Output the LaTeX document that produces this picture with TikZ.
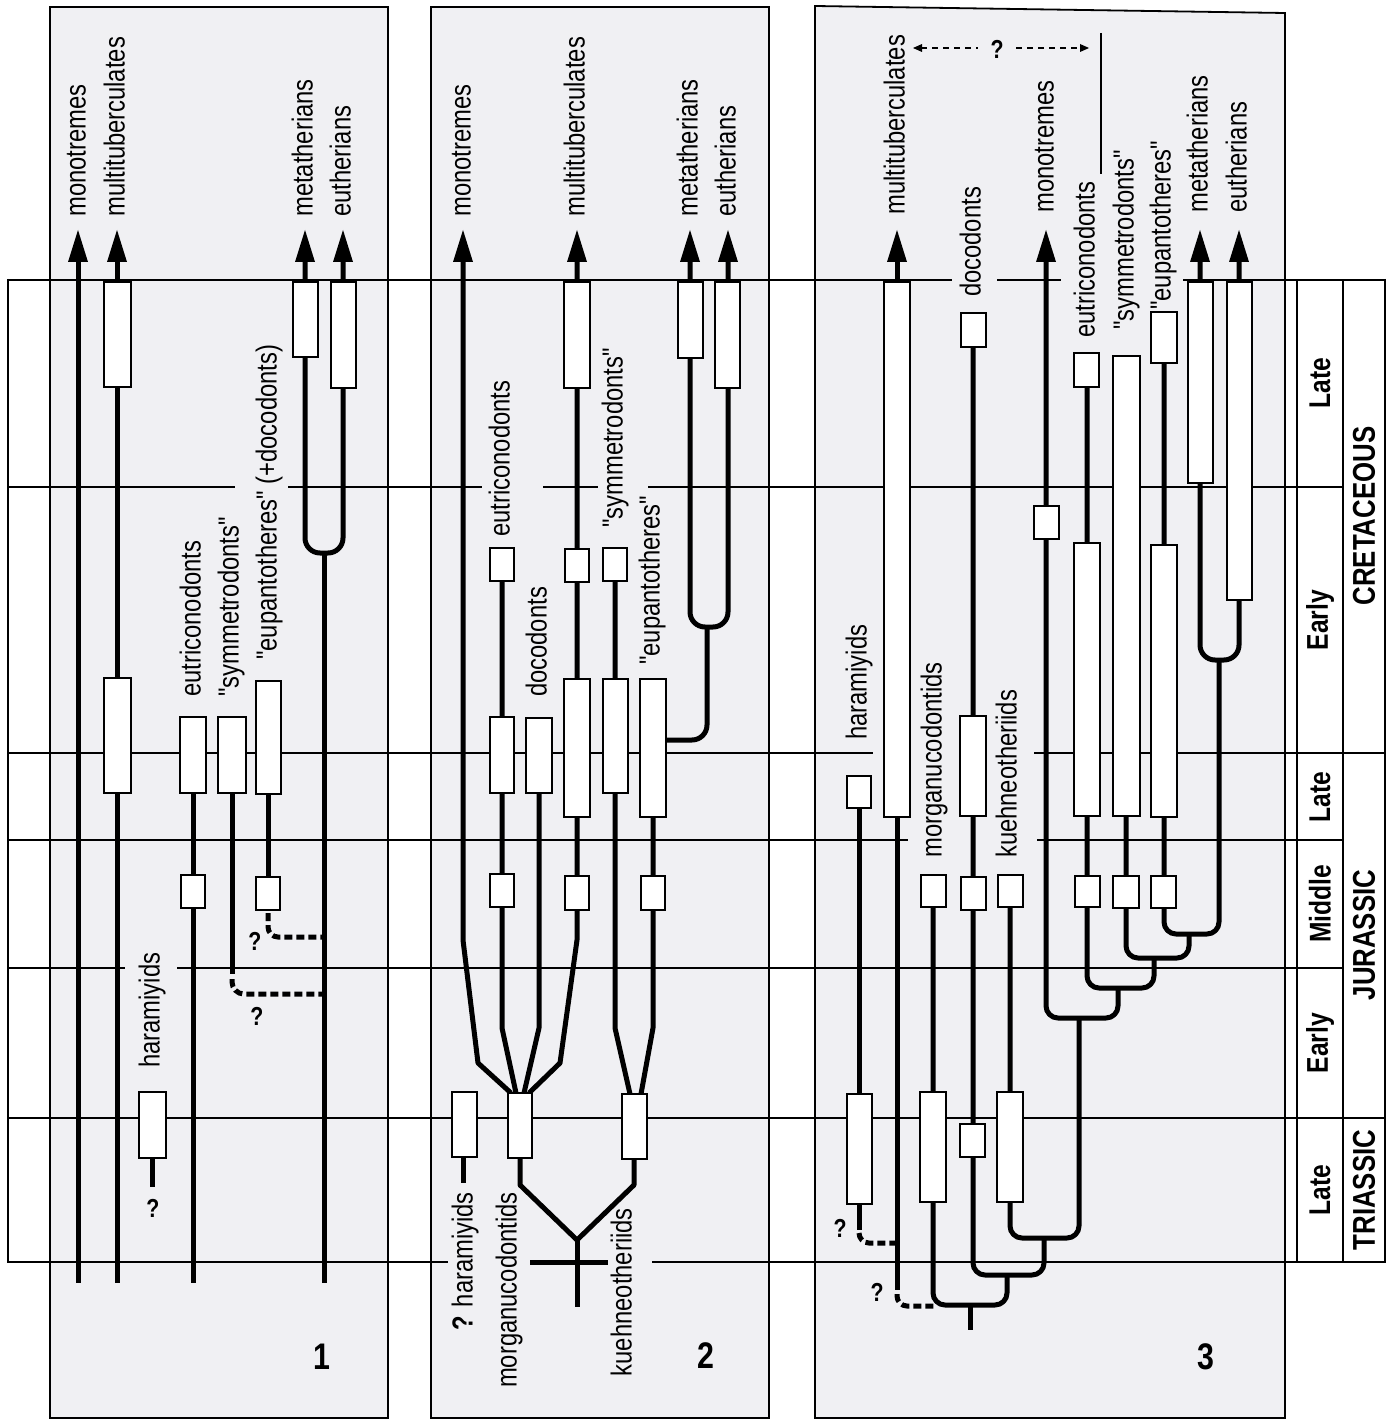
\documentclass[tikz,border=0pt]{standalone}
\usepackage{fontspec}
\newfontfamily\labfont[FakeStretch=0.82]{Liberation Sans}
\definecolor{panelgray}{RGB}{240,240,243}
\newcommand\labsize{\labfont\fontsize{29pt}{32pt}\selectfont}
\newcommand\qsize{\labfont\bfseries\fontsize{26pt}{28pt}\selectfont}
\newcommand\stsize{\labfont\bfseries\fontsize{30pt}{32pt}\selectfont}
\newcommand\persize{\labfont\bfseries\fontsize{31.5pt}{34pt}\selectfont}
\newcommand\numsize{\labfont\bfseries\fontsize{37pt}{40pt}\selectfont}
\newcommand\mybox[5]{%
  \pgfmathsetmacro\mbw{#4-#2}%
  \pgfmathsetmacro\mbh{#5-#3}%
  \node[bx,minimum width=\mbw pt,minimum height=\mbh pt] (#1) at ({(#2+#4)/2},{(#3+#5)/2}) {};}
\newcommand\arrowtip[1]{\fill ({#1-10},262) -- (#1,230) -- ({#1+10},262) -- cycle;}
\newcommand\uplab[4]{\node[lab,anchor=base west] (#1) at ({#2+7.5},#3) {#4};}
\newcommand\dnlab[4]{\node[lab,anchor=base east] (#1) at ({#2+7.5},#3) {#4};}
\begin{document}
\begin{tikzpicture}[x=1pt,y=-1pt,
  lin/.style={line width=5pt, line join=round},
  dsh/.style={line width=5pt, dash pattern=on 8pt off 4pt},
  tl/.style={line width=1.4pt},
  fr/.style={line width=2.4pt},
  pan/.style={fill=panelgray, draw=black, line width=1.8pt},
  bx/.style={draw, line width=2pt, fill=white, inner sep=0pt, outer sep=0pt, rectangle},
  lab/.style={rotate=90, inner sep=0pt, font=\labsize},
  q/.style={inner sep=0pt, font=\qsize},
  stg/.style={rotate=90, inner sep=0pt, font=\stsize},
  per/.style={rotate=90, inner sep=0pt, font=\persize},
  num/.style={inner sep=0pt, font=\numsize}]
\useasboundingbox (0,0) rectangle (1390,1420);
\fill[white] (0,0) rectangle (1390,1420);
% panels
\draw[pan] (50,7) rectangle (388,1418);
\draw[pan] (431,7) rectangle (769,1418);
\draw[pan] (815,6) -- (1285,13) -- (1285,1418) -- (815,1418) -- cycle;
% time lines
\draw[tl] (8,487) -- (235,487) (288,487) -- (482,487) (543,487) -- (598,487) (648,487) -- (1343,487);
\draw[tl] (8,753) -- (873,753) (1034,753) -- (1385,753);
\draw[tl] (8,840) -- (908,840) (1037,840) -- (1343,840);
\draw[tl] (8,968) -- (125,968) (177,968) -- (1343,968);
\draw[tl] (8,1118) -- (1385,1118);
\draw[tl] (1297,280) -- (1297,1262) (1343,280) -- (1343,1262);
% frame
\draw[fr] (8,280) -- (952,280) (997,280) -- (1061,280) (1183,280) -- (1385,280);
\draw[fr] (8,1262) -- (448,1262) (652,1262) -- (1385,1262);
\draw[fr] (8,279) -- (8,1263);
\draw[fr] (1385,279) -- (1385,1263);
% ---------- panel 1 lineages
\draw[lin] (78,258) -- (78,1283);
\draw[lin] (117,258) -- (117,1283);
\draw[lin, rounded corners=15pt] (305,258) -- (305,553) -- (343,553) -- (343,258);
\draw[lin] (324,553) -- (324,1283);
\draw[lin] (193,717) -- (193,1283);
\draw[lin] (232,717) -- (232,974);
\draw[dsh, rounded corners=12pt] (232,979) -- (232,994) -- (322,994);
\draw[lin] (268,681) -- (268,910);
\draw[dsh, rounded corners=10pt] (268,913) -- (268,937) -- (322,937);
\draw[lin] (152,1158) -- (152,1187);
% ---------- panel 2 lineages
\draw[lin] (463,258) -- (463,940) -- (478,1063) -- (511,1093);
\draw[lin] (502,548) -- (502,1028) -- (516,1093);
\draw[lin] (539,718) -- (539,1028) -- (524,1093);
\draw[lin] (577,258) -- (577,940) -- (560,1063) -- (529,1093);
\draw[lin] (615,548) -- (615,1028) -- (630,1094);
\draw[lin] (653,679) -- (653,1028) -- (641,1094);
\draw[lin, rounded corners=15pt] (690,258) -- (690,627) -- (728,627) -- (728,258);
\draw[lin, rounded corners=15pt] (707,627) -- (707,740) -- (666,740);
\draw[lin] (463,1157) -- (463,1183);
\draw[lin] (520,1158) -- (520,1185) -- (577,1240) -- (634,1185) -- (634,1159);
\draw[lin] (577,1240) -- (577,1307);
\draw[lin] (530,1262) -- (608,1262);
% ---------- panel 3 lineages
\draw[lin] (897,258) -- (897,1290);
\draw[dsh, rounded corners=10pt] (897,1294) -- (897,1306) -- (936,1306);
\draw[lin] (859,808) -- (859,1230);
\draw[dsh, rounded corners=10pt] (859,1233) -- (859,1243) -- (895,1243);
\draw[lin, rounded corners=15pt] (1200,258) -- (1200,660) -- (1239,660) -- (1239,258);
\draw[lin, rounded corners=12pt] (1164,312) -- (1164,934) -- (1219,934) -- (1219,660);
\draw[lin, rounded corners=12pt] (1126,356) -- (1126,958) -- (1189,958) -- (1189,934);
\draw[lin, rounded corners=12pt] (1087,353) -- (1087,988) -- (1154,988) -- (1154,958);
\draw[lin, rounded corners=12pt] (1046,258) -- (1046,1018) -- (1118,1018) -- (1118,988);
\draw[lin, rounded corners=12pt] (1010,875) -- (1010,1238) -- (1079,1238) -- (1079,1018);
\draw[lin, rounded corners=12pt] (973,313) -- (973,1275) -- (1044,1275) -- (1044,1238);
\draw[lin, rounded corners=12pt] (933,875) -- (933,1305) -- (1007,1305) -- (1007,1275);
\draw[lin] (970,1305) -- (970,1330);
% arrow tips
\arrowtip{78}\arrowtip{117}\arrowtip{305}\arrowtip{343}
\arrowtip{463}\arrowtip{577}\arrowtip{690}\arrowtip{728}
\arrowtip{897}\arrowtip{1046}\arrowtip{1200}\arrowtip{1239}
% top dashed double arrow in panel 3
\draw[line width=2pt, dash pattern=on 6pt off 5pt] (921,48) -- (978,48);
\draw[line width=2pt, dash pattern=on 6pt off 5pt] (1016,48) -- (1080,48);
\fill (913,48) -- (922,44) -- (922,52) -- cycle;
\fill (1089,48) -- (1080,44) -- (1080,52) -- cycle;
\draw[line width=1.8pt] (1101,33) -- (1101,174);
% ---------- boxes panel 1
\mybox{p1mu1}{104}{282}{131}{387}
\mybox{p1mu2}{104}{678}{131}{793}
\mybox{p1me}{293}{282}{318}{357}
\mybox{p1eu}{331}{282}{356}{388}
\mybox{p1et1}{180}{717}{206}{793}
\mybox{p1et2}{181}{875}{205}{908}
\mybox{p1sy}{218}{717}{246}{793}
\mybox{p1ep1}{256}{681}{281}{794}
\mybox{p1ep2}{256}{877}{280}{910}
\mybox{p1ha}{139}{1092}{166}{1158}
% boxes panel 2
\mybox{p2mu1}{564}{282}{590}{388}
\mybox{p2mu2}{565}{549}{589}{582}
\mybox{p2mu3}{564}{679}{590}{817}
\mybox{p2mu4}{565}{876}{589}{910}
\mybox{p2me}{678}{282}{703}{358}
\mybox{p2eu}{715}{282}{740}{388}
\mybox{p2et1}{490}{548}{514}{581}
\mybox{p2et2}{490}{717}{514}{793}
\mybox{p2et3}{490}{874}{514}{907}
\mybox{p2do}{526}{718}{552}{793}
\mybox{p2sy1}{603}{548}{627}{581}
\mybox{p2sy2}{603}{679}{628}{793}
\mybox{p2ep1}{640}{679}{666}{817}
\mybox{p2ep2}{641}{876}{665}{910}
\mybox{p2ha}{452}{1092}{477}{1157}
\mybox{p2mo}{508}{1093}{532}{1158}
\mybox{p2ku}{622}{1094}{647}{1159}
% boxes panel 3
\mybox{p3mu}{884}{282}{910}{817}
\mybox{p3ha1}{847}{776}{871}{808}
\mybox{p3ha2}{847}{1094}{872}{1204}
\mybox{p3mo1}{921}{875}{946}{907}
\mybox{p3mo2}{920}{1092}{946}{1202}
\mybox{p3do1}{961}{313}{986}{347}
\mybox{p3do2}{960}{716}{986}{816}
\mybox{p3do3}{961}{877}{986}{910}
\mybox{p3do4}{960}{1124}{985}{1157}
\mybox{p3ku1}{998}{875}{1023}{907}
\mybox{p3ku2}{997}{1092}{1023}{1202}
\mybox{p3mn}{1034}{506}{1059}{539}
\mybox{p3et1}{1074}{353}{1099}{387}
\mybox{p3et2}{1074}{543}{1100}{816}
\mybox{p3et3}{1075}{876}{1100}{907}
\mybox{p3sy1}{1113}{356}{1140}{816}
\mybox{p3sy2}{1113}{876}{1139}{908}
\mybox{p3ep1}{1151}{312}{1177}{363}
\mybox{p3ep2}{1151}{545}{1177}{817}
\mybox{p3ep3}{1151}{876}{1176}{908}
\mybox{p3me}{1188}{282}{1213}{483}
\mybox{p3eu}{1227}{282}{1252}{600}
% ---------- labels panel 1
\uplab{l1mo}{78}{217}{monotremes}
\uplab{l1mu}{117}{217}{multituberculates}
\uplab{l1me}{305}{217}{metatherians}
\uplab{l1eu}{343}{217}{eutherians}
\uplab{l1et}{193}{697}{eutriconodonts}
\uplab{l1sy}{231}{697}{"symmetrodonts"}
\uplab{l1ep}{269}{660}{"eupantotheres" (+docodonts)}
\uplab{l1ha}{152}{1068}{haramiyids}
\node[q] (q1a) at (153,1208) {?};
\node[q] (q1b) at (257,1016) {?};
\node[q] (q1c) at (255,941) {?};
\node[num] (n1) at (322,1357) {1};
% labels panel 2
\uplab{l2mo}{463}{217}{monotremes}
\uplab{l2mu}{577}{217}{multituberculates}
\uplab{l2me}{690}{217}{metatherians}
\uplab{l2eu}{728}{217}{eutherians}
\uplab{l2et}{502}{537}{eutriconodonts}
\uplab{l2do}{539}{697}{docodonts}
\uplab{l2sy}{615}{528}{"symmetrodonts"}
\uplab{l2ep}{652}{665}{"eupantotheres"}
\dnlab{l2ha}{465}{1192}{\textbf{?} haramiyids}
\dnlab{l2mg}{509}{1192}{morganucodontids}
\dnlab{l2ku}{624}{1208}{kuehneotheriids}
\node[num] (n2) at (706,1356) {2};
% labels panel 3
\uplab{l3mu}{897}{215}{multituberculates}
\uplab{l3do}{973}{297}{docodonts}
\uplab{l3mo}{1046}{213}{monotremes}
\uplab{l3et}{1087}{338}{eutriconodonts}
\uplab{l3sy}{1126}{330}{"symmetrodonts"}
\uplab{l3ep}{1163}{310}{"eupantotheres"}
\uplab{l3me}{1200}{213}{metatherians}
\uplab{l3eu}{1239}{213}{eutherians}
\uplab{l3ha}{859}{740}{haramiyids}
\uplab{l3mg}{934}{858}{morganucodontids}
\uplab{l3ku}{1009}{858}{kuehneotheriids}
\node[q] (q3a) at (997,49) {?};
\node[q] (q3b) at (840,1228) {?};
\node[q] (q3c) at (877,1292) {?};
\node[num] (n3) at (1206,1357) {3};
% time scale
\node[stg] (s1) at (1320,383) {Late};
\node[stg] (s2) at (1320,620) {Early};
\node[stg] (s3) at (1320,797) {Late};
\node[stg] (s4) at (1320,904) {Middle};
\node[stg] (s5) at (1320,1043) {Early};
\node[stg] (s6) at (1320,1190) {Late};
\node[per] (pc) at (1364,516) {CRETACEOUS};
\node[per] (pj) at (1364,935) {JURASSIC};
\node[per] (pt) at (1364,1190) {TRIASSIC};
\end{tikzpicture}
\end{document}
